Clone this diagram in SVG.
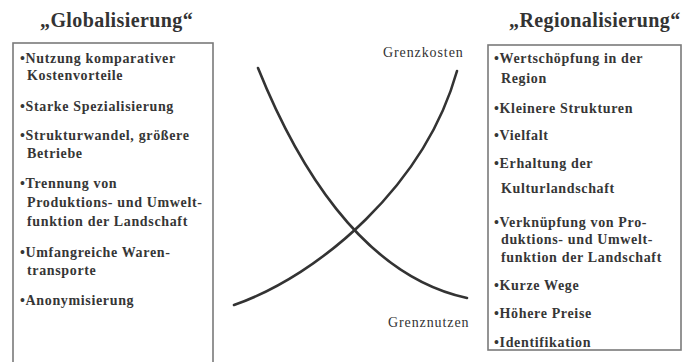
<svg xmlns="http://www.w3.org/2000/svg" width="685" height="362" viewBox="0 0 685 362">
<style>
.title{font-family:"Liberation Serif",serif;font-weight:bold;font-size:20px;fill:#333333;letter-spacing:0.4px}
.t{font-family:"Liberation Serif",serif;font-weight:bold;font-size:14px;fill:#363636;letter-spacing:0.65px}
.lbl{font-family:"Liberation Serif",serif;font-size:14px;fill:#333333;letter-spacing:0.9px}
.box{fill:#ffffff;stroke:#7a7a7a;stroke-width:1.6}
.curve{fill:none;stroke:#333333;stroke-width:2.6;stroke-linecap:round}
</style>
<rect width="685" height="362" fill="#ffffff"/>
<g id="title-global"><text class="title" x="40" y="27">„Globalisierung“</text></g>
<g id="title-regional"><text class="title" x="509" y="27">„Regionalisierung“</text></g>
<g id="box-global">
<rect class="box" x="13" y="43" width="200" height="325"/>
<text class="t" x="20" y="63">•Nutzung komparativer</text>
<text class="t" x="27" y="80">Kostenvorteile</text>
<text class="t" x="20" y="111">•Starke Spezialisierung</text>
<text class="t" x="20" y="140">•Strukturwandel, größere</text>
<text class="t" x="27" y="158">Betriebe</text>
<text class="t" x="20" y="188">•Trennung von</text>
<text class="t" x="27" y="207">Produktions- und Umwelt-</text>
<text class="t" x="27" y="226">funktion der Landschaft</text>
<text class="t" x="20" y="257">•Umfangreiche Waren-</text>
<text class="t" x="27" y="275">transporte</text>
<text class="t" x="20" y="305">•Anonymisierung</text>
</g>
<g id="box-regional">
<rect class="box" x="488" y="45" width="193" height="305"/>
<text class="t" x="494" y="63">•Wertschöpfung in der</text>
<text class="t" x="501" y="83">Region</text>
<text class="t" x="494" y="113">•Kleinere Strukturen</text>
<text class="t" x="494" y="140">•Vielfalt</text>
<text class="t" x="494" y="168">•Erhaltung der</text>
<text class="t" x="501" y="193">Kulturlandschaft</text>
<text class="t" x="494" y="227">•Verknüpfung von Pro-</text>
<text class="t" x="501" y="244">duktions- und Umwelt-</text>
<text class="t" x="501" y="262">funktion der Landschaft</text>
<text class="t" x="494" y="290">•Kurze Wege</text>
<text class="t" x="494" y="318">•Höhere Preise</text>
<text class="t" x="494" y="347">•Identifikation</text>
</g>
<g id="connectors">
<path id="grenznutzen-curve" class="curve" d="M258,68 C295,160 360,275 467,298"/>
<path id="grenzkosten-curve" class="curve" d="M234,305 C320,275 425,185 457,71"/>
</g>
<g id="label-grenzkosten"><text class="lbl" x="383" y="57">Grenzkosten</text></g>
<g id="label-grenznutzen"><text class="lbl" x="388" y="327">Grenznutzen</text></g>
</svg>
